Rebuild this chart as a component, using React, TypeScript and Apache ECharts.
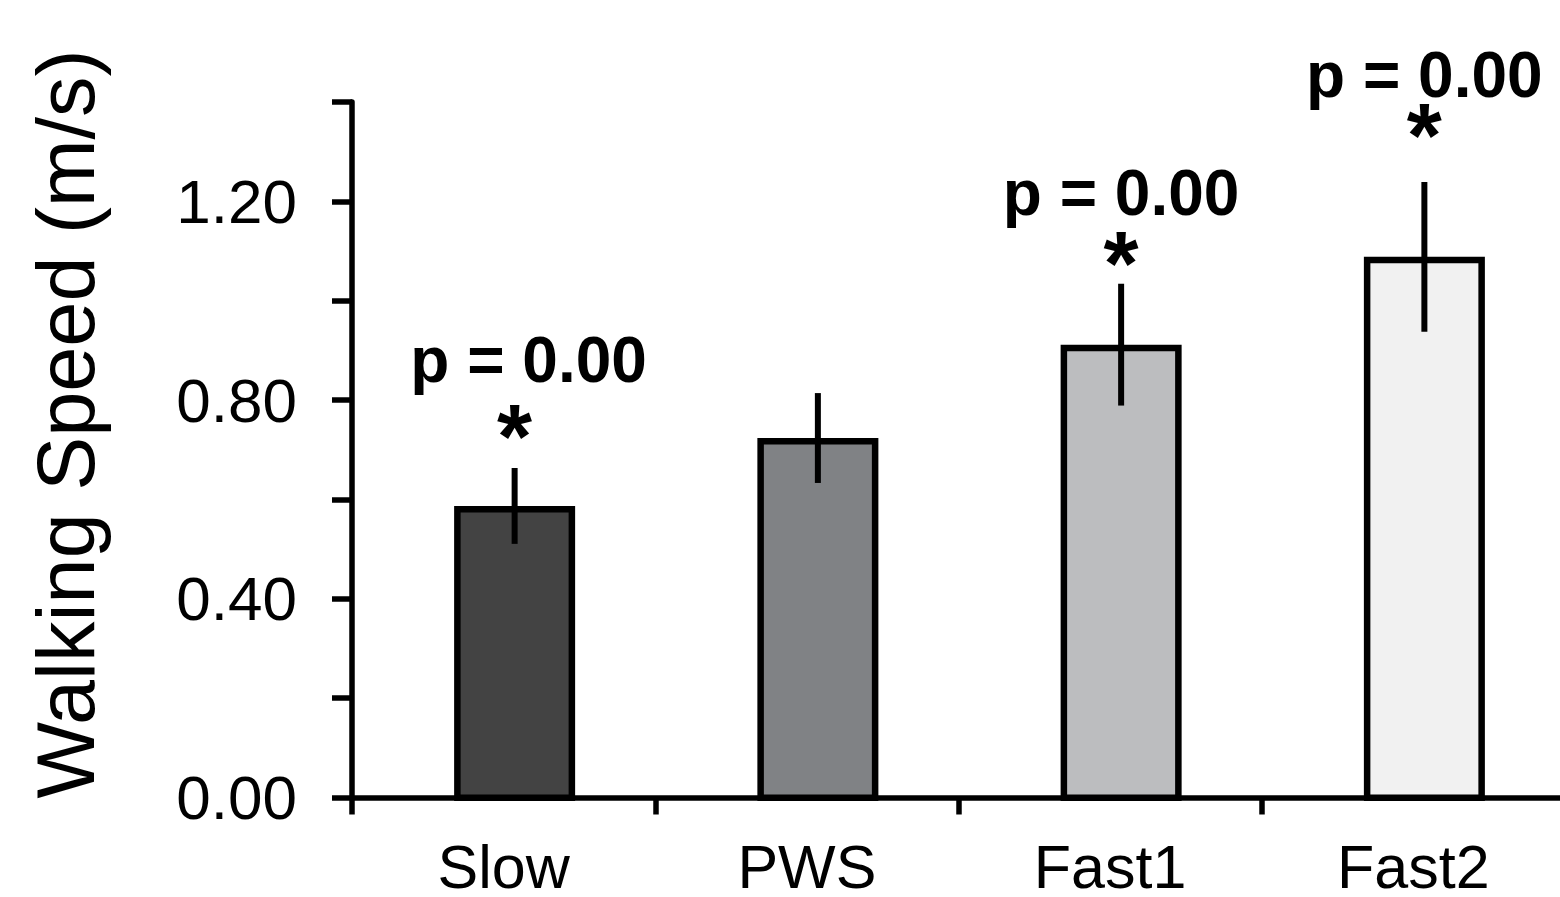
import React, { useEffect, useRef } from "react";
import * as echarts from "echarts";

const categories = ["Slow", "PWS", "Fast1", "Fast2"];
const meanSpeed = [0.591, 0.727, 0.914, 1.09];
const sdSpeed = [0.076, 0.09, 0.122, 0.15];
const barColors = ["#434343", "#808285", "#bcbdbf", "#f1f1f1"];
const yTicks = [0, 0.2, 0.4, 0.6, 0.8, 1.0, 1.2, 1.4];
// significance annotations: category index, star y, p-label y (axis units), label
const sigIndex = [0, 2, 3];
const sigStarY = [0.73, 1.076, 1.332];
const sigLabelY = [0.884, 1.218, 1.455];
const sigLabels = ["p = 0.00", "p = 0.00", "p = 0.00"];

const FONT = "'Liberation Sans', Arial, Helvetica, sans-serif";

export default function App() {
  const ref = useRef<HTMLDivElement>(null);
  useEffect(() => {
    if (!ref.current) return;
    const chart = echarts.init(ref.current, null, { renderer: "svg" });
    const yMin = yTicks[0];
    const yMax = yTicks[yTicks.length - 1];
    const yInterval = yTicks[1] - yTicks[0];
    const labelOffsetX = [14, 0, 0];

    chart.setOption({
      animation: false,
      backgroundColor: "#ffffff",
      textStyle: { fontFamily: FONT },
      grid: [
        { left: 352, top: 102, bottom: 96, width: 1213, containLabel: false },
        { left: 363, top: 102, bottom: 96, width: 1213, containLabel: false },
      ],
      xAxis: [
        {
          type: "category",
          gridIndex: 0,
          data: categories,
          boundaryGap: true,
          axisLine: { show: true, lineStyle: { color: "#000", width: 5.5 } },
          axisTick: { show: true, length: 17, lineStyle: { color: "#000", width: 5.5 } },
          axisLabel: {
            color: "#000",
            fontSize: 61,
            fontFamily: FONT,
            margin: 45,
            lineHeight: 48,
          },
          splitLine: { show: false },
        },
        {
          type: "category",
          gridIndex: 1,
          data: categories,
          show: false,
        },
      ],
      yAxis: [
        {
          type: "value",
          gridIndex: 0,
          min: yMin,
          max: yMax,
          interval: yInterval,
          axisLine: { show: true, lineStyle: { color: "#000", width: 5.5 } },
          axisTick: { show: true, length: 20, lineStyle: { color: "#000", width: 5.5 } },
          axisLabel: {
            color: "#000",
            fontSize: 62,
            fontFamily: FONT,
            margin: 55,
            formatter: (v: number) =>
              Math.round(v * 10) % 4 === 0 && v < yMax - 1e-9 ? v.toFixed(2) : "",
          },
          splitLine: { show: false },
        },
        {
          type: "value",
          gridIndex: 1,
          min: yMin,
          max: yMax,
          interval: yInterval,
          show: false,
        },
      ],
      graphic: [
        {
          type: "text",
          x: 66,
          y: 424,
          rotation: Math.PI / 2,
          style: {
            text: "Walking Speed (m/s)",
            fontSize: 81,
            fontFamily: FONT,
            fill: "#000",
            align: "center",
            verticalAlign: "middle",
          },
        },
      ],
      series: [
        {
          type: "bar",
          xAxisIndex: 1,
          yAxisIndex: 1,
          barWidth: 121,
          data: meanSpeed.map((v, i) => ({
            value: v,
            itemStyle: { color: barColors[i], borderColor: "#000", borderWidth: 6.5 },
          })),
          z: 2,
        },
        {
          type: "custom",
          xAxisIndex: 1,
          yAxisIndex: 1,
          z: 3,
          clip: false,
          data: meanSpeed.map((m, i) => [i, m - sdSpeed[i], m + sdSpeed[i]]),
          renderItem: (params: any, api: any) => {
            const lo = api.coord([api.value(0), api.value(1)]);
            const hi = api.coord([api.value(0), api.value(2)]);
            return {
              type: "line",
              shape: { x1: lo[0], y1: lo[1], x2: hi[0], y2: hi[1] },
              style: { stroke: "#000", lineWidth: 6 },
            };
          },
        },
        {
          type: "custom",
          xAxisIndex: 1,
          yAxisIndex: 1,
          z: 4,
          clip: false,
          data: sigIndex.map((c, i) => [c, sigStarY[i], sigLabelY[i], i]),
          renderItem: (params: any, api: any) => {
            const k = api.value(3);
            const star = api.coord([api.value(0), api.value(1)]);
            const lab = api.coord([api.value(0), api.value(2)]);
            return {
              type: "group",
              children: [
                {
                  type: "text",
                  x: star[0],
                  y: star[1],
                  style: {
                    text: "*",
                    fontSize: 90,
                    fontWeight: "bold",
                    fontFamily: FONT,
                    fill: "#000",
                    align: "center",
                    verticalAlign: "middle",
                    lineHeight: 50,
                  },
                },
                {
                  type: "text",
                  x: lab[0] + labelOffsetX[k],
                  y: lab[1],
                  style: {
                    text: sigLabels[k],
                    fontSize: 64,
                    fontWeight: "bold",
                    fontFamily: FONT,
                    fill: "#000",
                    align: "center",
                    verticalAlign: "middle",
                  },
                },
              ],
            };
          },
        },
      ],
    });
    return () => chart.dispose();
  }, []);

  return (
    <div style={{ position: "fixed", left: 0, top: 0, width: 1560, height: 897, overflow: "hidden", background: "#fff" }}>
      <div ref={ref} style={{ width: 1590, height: 897 }} />
    </div>
  );
}
